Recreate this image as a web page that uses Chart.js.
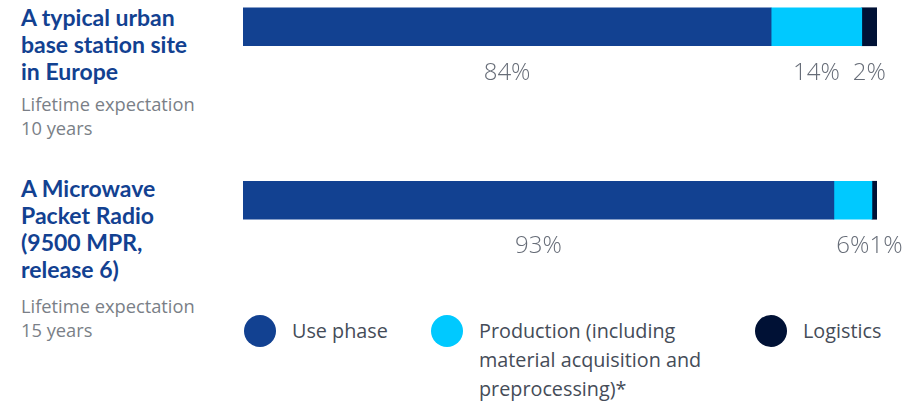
<!DOCTYPE html>
<html>
<head>
<meta charset="utf-8">
<script src="https://cdn.jsdelivr.net/npm/chart.js@4"></script>
<style>
  html, body { margin: 0; padding: 0; background: #fff; }
  body { width: 906px; height: 404px; position: relative; overflow: hidden; font-family: "Open Sans", "Noto Sans", sans-serif; }
  .title { position: absolute; left: 21px; color: #124191; font-family: Lato, sans-serif; font-weight: 700; font-size: 23px; line-height: 27px; }
  .sub { position: absolute; left: 21px; color: #7a7f87; font-size: 18.3px; line-height: 24px; }
  .chart-box { position: absolute; left: 243px; top: -60px; width: 663px; height: 347px; }
  .leg { position: absolute; top: 316px; display: flex; align-items: flex-start; }
  .dot { width: 32px; height: 32px; border-radius: 50%; flex: none; margin-top: -1px; }
  .leg span { margin-left: 16px; color: #454c58; font-size: 19.8px; line-height: 29px; }
</style>
</head>
<body>
<div class="title" style="top:4px">A typical urban<br>base station site<br>in Europe</div>
<div class="sub" style="top:92px">Lifetime expectation<br>10 years</div>
<div class="title" style="top:175px">A Microwave<br>Packet Radio<br>(9500 MPR,<br>release 6)</div>
<div class="sub" style="top:294px">Lifetime expectation<br>15 years</div>

<div class="chart-box"><canvas id="bars"></canvas></div>

<div id="legend"></div>

<script>
// two sites, three life-cycle phases (share of CO2e, %)
const categories = ["A typical urban base station site in Europe", "A Microwave Packet Radio (9500 MPR, release 6)"];
const seriesNames = ["Use phase", "Production (including<br>material acquisition and<br>preprocessing)*", "Logistics"];
const usePhase = [83.3, 93.2];
const production = [14.3, 6.0];
const logistics = [2.4, 0.8];
const usePhaseLabels = ["84%", "93%"];
const productionLabels = ["14%", "6%"];
const logisticsLabels = ["2%", "1%"];

const colors = ["#124191", "#00c9ff", "#001135"];
const legendX = [244, 431, 755];

// legend is html, wraps like the original
const legend = document.getElementById("legend");
seriesNames.forEach((name, i) => {
    const el = document.createElement("div");
    el.className = "leg";
    el.style.left = legendX[i] + "px";
    el.innerHTML = '<div class="dot" style="background:' + colors[i] + '"></div><span>' + name + "</span>";
    legend.appendChild(el);
});

// percent text under each bar, nudged right if two labels collide
const pctLabels = {
    id: "pctLabels",
    afterDatasetsDraw(chart) {
        const ctx = chart.ctx;
        ctx.save();
        ctx.font = "300 24px 'Open Sans', sans-serif";
        ctx.fillStyle = "#676d78";
        ctx.textAlign = "center";
        ctx.textBaseline = "middle";
        categories.forEach((_, i) => {
            let prevRight = -Infinity;
            chart.data.datasets.forEach((ds, d) => {
                const bar = chart.getDatasetMeta(d).data[i];
                const txt = ds.valueLabels[i];
                const w = ctx.measureText(txt).width;
                let cx = (bar.x + bar.base) / 2;
                if (cx - w / 2 < prevRight) cx = prevRight + w / 2;
                ctx.fillText(txt, cx, bar.y + 46);
                prevRight = cx + w / 2;
            });
        });
        ctx.restore();
    },
};

new Chart(document.getElementById("bars"), {
    type: "bar",
    data: {
        labels: categories,
        datasets: [
            { label: "Use phase", data: usePhase, valueLabels: usePhaseLabels, backgroundColor: colors[0] },
            { label: "Production", data: production, valueLabels: productionLabels, backgroundColor: colors[1] },
            { label: "Logistics", data: logistics, valueLabels: logisticsLabels, backgroundColor: colors[2] },
        ],
    },
    options: {
        indexAxis: "y",
        responsive: true,
        maintainAspectRatio: false,
        animation: false,
        layout: { padding: { left: 0, right: 29, top: 0, bottom: 0 } },
        datasets: { bar: { barThickness: 38, borderWidth: 0 } },
        plugins: { legend: { display: false }, tooltip: { enabled: false } },
        scales: {
            x: { stacked: true, min: 0, max: 100, display: false },
            y: { stacked: true, display: false },
        },
    },
    plugins: [pctLabels],
});
</script>
</body>
</html>
